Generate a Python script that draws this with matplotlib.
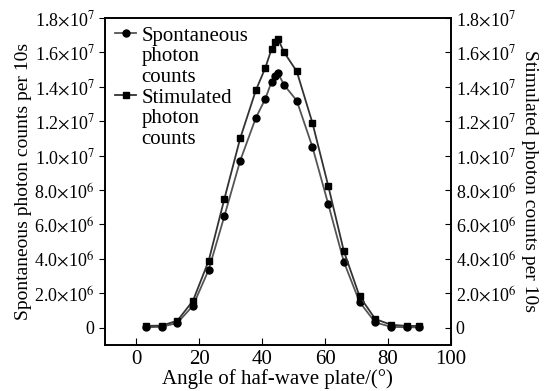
import matplotlib
matplotlib.use("Agg")
import matplotlib.pyplot as plt
from matplotlib.lines import Line2D
from matplotlib.ticker import FixedLocator, FixedFormatter

plt.rcParams['font.family'] = ['Liberation Serif', 'DejaVu Serif']
plt.rcParams['mathtext.fontset'] = 'stix'

angle = [3, 8, 13, 18, 23, 28, 33, 38, 41, 43, 44, 45, 47, 51, 56, 61, 66, 71, 76, 81, 86, 90]
spont = [0.02e6, 0.05e6, 0.27e6, 1.28e6, 3.37e6, 6.5e6, 9.7e6, 12.2e6, 13.3e6, 14.3e6, 14.65e6, 14.8e6,
         14.1e6, 13.2e6, 10.5e6, 7.2e6, 3.82e6, 1.49e6, 0.3e6, 0.05e6, 0.02e6, 0.02e6]
stim = [0.1e6, 0.12e6, 0.4e6, 1.57e6, 3.9e6, 7.5e6, 11.0e6, 13.8e6, 15.1e6, 16.2e6, 16.6e6, 16.8e6,
        16.0e6, 14.9e6, 11.9e6, 8.26e6, 4.44e6, 1.82e6, 0.5e6, 0.17e6, 0.1e6, 0.1e6]

yticks = [0, 2e6, 4e6, 6e6, 8e6, 1e7, 1.2e7, 1.4e7, 1.6e7, 1.8e7]
ylabels = ['0', r'2.0$\times$10$^6$', r'4.0$\times$10$^6$', r'6.0$\times$10$^6$', r'8.0$\times$10$^6$',
           r'1.0$\times$10$^7$', r'1.2$\times$10$^7$', r'1.4$\times$10$^7$', r'1.6$\times$10$^7$',
           r'1.8$\times$10$^7$']

fig = plt.figure(figsize=(5.47, 3.91), dpi=100)
ax = fig.add_axes([0.192, 0.118, 0.632, 0.836])

l1, = ax.plot(angle, spont, color='#555555', lw=1.3, marker='o', ms=5, mfc='black', mec='black')
l2, = ax.plot(angle, stim, color='#333333', lw=1.3, marker='s', ms=5, mfc='black', mec='black')

ax.set_xlim(-10, 100)
ax.set_ylim(-1e6, 1.8e7)
ax.set_xticks([0, 20, 40, 60, 80, 100])
ax.yaxis.set_major_locator(FixedLocator(yticks))
ax.yaxis.set_major_formatter(FixedFormatter(ylabels))
ax.tick_params(axis='y', direction='out', labelsize=13, length=4)
ax.tick_params(axis='x', direction='in', labelsize=15, length=5)
ax.set_xlabel('Angle of haf-wave plate/(°)', fontsize=15, labelpad=0)
ax.set_ylabel('Spontaneous photon counts per 10s', fontsize=14, labelpad=2)

ax2 = ax.twinx()
ax2.set_ylim(ax.get_ylim())
ax2.yaxis.set_major_locator(FixedLocator(yticks))
ax2.yaxis.set_major_formatter(FixedFormatter(ylabels))
ax2.tick_params(axis='y', direction='in', labelsize=13, length=4)
ax2.set_ylabel('Stimulated photon counts per 10s', fontsize=14, rotation=270, labelpad=16)

for a in (ax, ax2):
    for s in a.spines.values():
        s.set_linewidth(1.2)

blank = Line2D([], [], linestyle='none')
ax.legend([l1, blank, blank, l2, blank, blank],
          ['Spontaneous', 'photon', 'counts', 'Stimulated', 'photon', 'counts'],
          loc='upper left', bbox_to_anchor=(0.03, 0.975), frameon=False, fontsize=15,
          handlelength=1.0, handletextpad=0.25, borderaxespad=0.0, labelspacing=0.05, borderpad=0.0)

fig.savefig('out.png', dpi=100)
